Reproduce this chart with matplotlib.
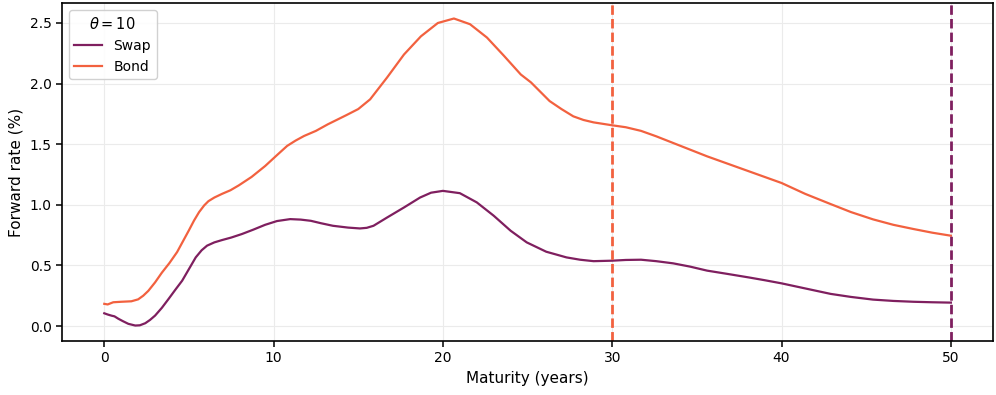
import numpy as np
import matplotlib.pyplot as plt

# Forward rate curves (maturity in years, rate in %)
bond_x = [0, 0.2, 0.53, 1.0, 1.6, 2.0, 2.3, 2.6, 3.0, 3.4, 3.85, 4.3, 4.65, 5.0,
          5.3, 5.6, 5.9, 6.15, 6.5, 6.95, 7.45, 7.94, 8.7, 9.5, 10.2, 10.8,
          11.3, 11.8, 12.5, 13.2, 14.3, 15.0, 15.7, 16.7, 17.7, 18.7, 19.7,
          20.65, 21.6, 22.6, 23.6, 24.6, 25.2, 26.3, 27.0, 27.7, 28.3, 28.9,
          30.0, 30.8, 31.7, 32.6, 33.6, 34.6, 35.6, 36.8, 38.1, 39.0, 40.0,
          41.4, 42.9, 44.1, 45.4, 46.6, 47.8, 48.9, 50.0]
bond_y = [0.183, 0.178, 0.196, 0.2, 0.204, 0.22, 0.25, 0.29, 0.36, 0.44, 0.52,
          0.61, 0.70, 0.79, 0.87, 0.94, 0.995, 1.03, 1.06, 1.09, 1.12, 1.16,
          1.23, 1.32, 1.41, 1.486, 1.53, 1.568, 1.61, 1.664, 1.74, 1.79, 1.87,
          2.05, 2.24, 2.39, 2.50, 2.537, 2.49, 2.38, 2.23, 2.075, 2.01, 1.856,
          1.79, 1.73, 1.70, 1.68, 1.656, 1.64, 1.61, 1.565, 1.51, 1.455, 1.40,
          1.34, 1.275, 1.23, 1.18, 1.09, 1.006, 0.94, 0.88, 0.835, 0.80, 0.77,
          0.745]

swap_x = [0, 0.2, 0.44, 0.6, 0.83, 1.1, 1.42, 1.83, 2.1, 2.42, 2.7, 3.0, 3.4,
          3.8, 4.2, 4.6, 5.0, 5.4, 5.75, 6.07, 6.5, 6.95, 7.5, 8.13, 8.8, 9.5,
          10.2, 10.98, 11.6, 12.2, 12.8, 13.5, 14.4, 15.1, 15.5, 15.9, 16.7,
          17.7, 18.65, 19.3, 20.0, 21.0, 22.0, 23.0, 24.0, 24.95, 26.1, 27.3,
          28.1, 28.9, 30.0, 30.8, 31.7, 32.6, 33.6, 34.6, 35.6, 36.8, 38.1,
          39.0, 40.0, 41.4, 42.9, 44.1, 45.4, 46.6, 47.8, 48.9, 50.0]
swap_y = [0.105, 0.095, 0.085, 0.08, 0.06, 0.04, 0.018, 0.004, 0.006, 0.023,
          0.05, 0.086, 0.15, 0.224, 0.30, 0.374, 0.47, 0.566, 0.625, 0.663,
          0.69, 0.709, 0.73, 0.759, 0.795, 0.835, 0.866, 0.882, 0.878, 0.868,
          0.848, 0.827, 0.812, 0.805, 0.81, 0.827, 0.895, 0.978, 1.06, 1.10,
          1.115, 1.096, 1.02, 0.91, 0.786, 0.69, 0.613, 0.566, 0.547, 0.535,
          0.539, 0.545, 0.547, 0.535, 0.517, 0.49, 0.457, 0.43, 0.40, 0.378,
          0.352, 0.31, 0.265, 0.24, 0.218, 0.207, 0.20, 0.196, 0.193]

swap_color = '#7f1f5f'
bond_color = '#f2613f'

fig = plt.figure(figsize=(9.96, 3.95), dpi=100)
ax = fig.add_axes([0.0622, 0.137, 0.935, 0.855])

ax.plot(swap_x, swap_y, color=swap_color, lw=1.6, label='Swap')
ax.plot(bond_x, bond_y, color=bond_color, lw=1.6, label='Bond')
ax.axvline(30, color=bond_color, ls=(0, (3.4, 1.5)), lw=2)
ax.axvline(50, color=swap_color, ls=(0, (3.4, 1.5)), lw=2)

ax.grid(True, color='#ebebeb', lw=0.8)
ax.set_axisbelow(True)
for s in ax.spines.values():
    s.set_linewidth(1.2)
ax.tick_params(labelsize=10, width=1.1, length=4)
ax.set_xlabel('Maturity (years)', fontsize=11)
ax.set_ylabel('Forward rate (%)', fontsize=11)
ax.legend(title=r'$\theta = 10$', loc='upper left', fontsize=10,
          title_fontsize=10.5, framealpha=0.9, edgecolor='#cccccc')

fig.savefig('out.png', dpi=100)
